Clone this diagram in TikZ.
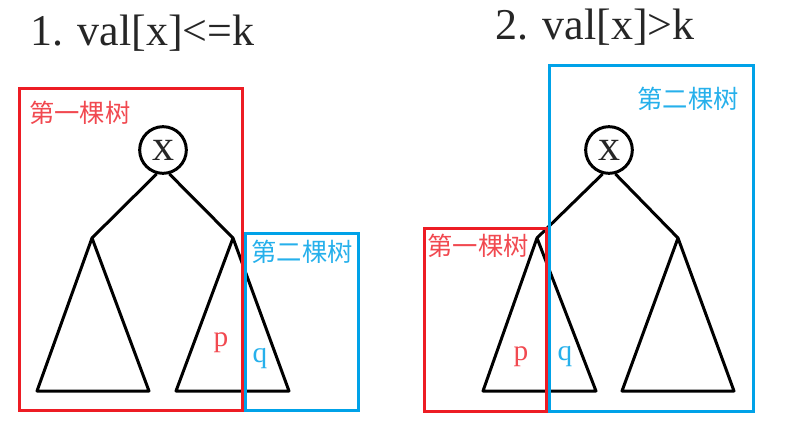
\documentclass[tikz,border=0pt]{standalone}
\usepackage{fontspec}
\setmainfont{Liberation Serif}
\newfontfamily\cjk{Noto Sans CJK SC}
\definecolor{boxred}{HTML}{ED1C24}
\definecolor{boxblue}{HTML}{00A2E8}
\colorlet{textred}{boxred!80!white}
\colorlet{textblue}{boxblue!85!white}
\colorlet{textgray}{black!85}
\tikzset{
  tree/.style={line width=2.25pt,line join=round},
  part/.style={line width=2.25pt},
  cjklabel/.style={inner sep=0pt,font=\cjk\fontsize{19}{21}\selectfont},
  leaf/.style={inner sep=0pt,font=\fontsize{22}{24}\selectfont},
  title/.style={inner sep=0pt,anchor=base west,text=textgray,font=\fontsize{33}{36}\selectfont}
}
\begin{document}
\begin{tikzpicture}[x=0.75pt,y=-0.75pt]
      \useasboundingbox (0,0) rectangle (793,425);

      % titles
      \node[title] (t1) at (30,45) {1. val[x]<=k};
      \node[title] (t2) at (495,39) {2. val[x]>k};

      \begin{scope}[every node/.style={circle,draw,line width=2.25pt,minimum size=35pt,inner sep=0pt,text=textgray,font=\fontsize{33}{36}\selectfont}]
        \node (x1) at (163,150) {x};
        \node (x2) at (609,150) {x};
      \end{scope}

      % subtree corners
      \coordinate (a1) at (92,238);  \coordinate (b1) at (37,391);  \coordinate (c1) at (149,391);
      \coordinate (a2) at (233,238); \coordinate (b2) at (176,391); \coordinate (c2) at (289,391);
      \coordinate (a3) at (537,238); \coordinate (b3) at (483,391); \coordinate (c3) at (596,391);
      \coordinate (a4) at (678,238); \coordinate (b4) at (622,391); \coordinate (c4) at (734,391);

      \begin{scope}[tree]
        \draw (x1.-105) -- (a1);
        \draw (x1.-75)  -- (a2);
        \draw (x2.-105) -- (a3);
        \draw (x2.-75)  -- (a4);
        \draw (a1) -- (b1) -- (c1) -- cycle;
        \draw (a2) -- (b2) -- (c2) -- cycle;
        \draw (a3) -- (b3) -- (c3) -- cycle;
        \draw (a4) -- (b4) -- (c4) -- cycle;
      \end{scope}

      % the two parts
      \draw[part,boxred]  (19,88)   rectangle (242,410);
      \draw[part,boxblue] (245,233) rectangle (358,410);
      \draw[part,boxred]  (424,228) rectangle (546,411);
      \draw[part,boxblue] (549,65)  rectangle (753,411);

      \begin{scope}[every node/.style={cjklabel}]
        \node[textred]  (r1) at (80,113)  {第一棵树};
        \node[textblue] (s1) at (302,252) {第二棵树};
        \node[textred]  (r2) at (478,246) {第一棵树};
        \node[textblue] (s2) at (688,99)  {第二棵树};
      \end{scope}

      \begin{scope}[every node/.style={leaf}]
        \node[textred]  (p1) at (221,343) {p};
        \node[textblue] (q1) at (260,359) {q};
        \node[textred]  (p2) at (521,357) {p};
        \node[textblue] (q2) at (565,357) {q};
      \end{scope}

    \end{tikzpicture}
\end{document}
